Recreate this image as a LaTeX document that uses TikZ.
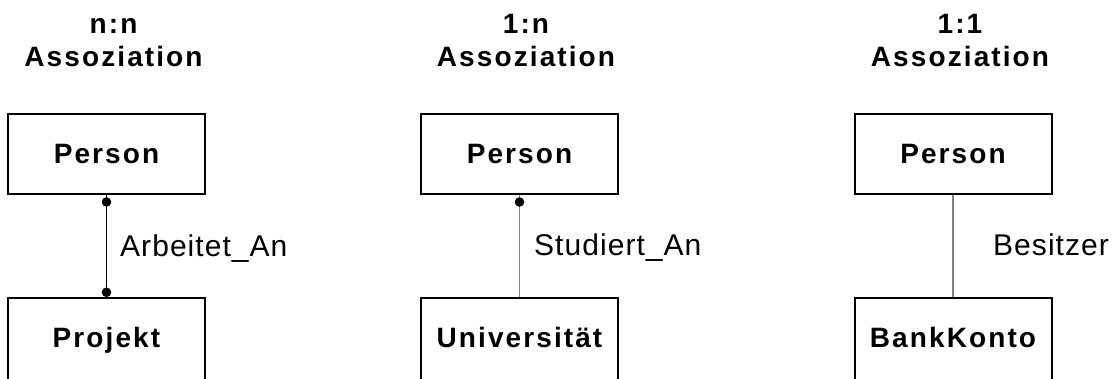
\documentclass[tikz,border=0pt]{standalone}
\usepackage{fontspec}
\setmainfont{Liberation Sans}
\newfontfamily\boxfont[LetterSpace=7.5]{Liberation Sans}
\newfontfamily\labfont[LetterSpace=3.5]{Liberation Sans}
\definecolor{linegray}{RGB}{128,128,128}
\begin{document}
\begin{tikzpicture}[x=1pt,y=-1pt,
  entity/.style={draw=black, line width=2pt, minimum width=197pt, minimum height=80pt, inner sep=0pt,
    text height=20pt, text depth=0pt,
    font=\boxfont\bfseries\fontsize{28}{32}\selectfont},
  lowentity/.style={entity, minimum height=84pt, text depth=4pt},
  title/.style={align=center, anchor=base, inner sep=0pt, font=\boxfont\bfseries\fontsize{28}{33.4}\selectfont},
  rellabel/.style={anchor=base west, inner sep=0pt, font=\labfont\fontsize{30}{32}\selectfont},
  assocblack/.style={draw=black, line width=1.3pt},
  assocgray/.style={draw=linegray, line width=1.7pt},
  dotr/.style={fill=black}
]
\useasboundingbox (0,0) rectangle (1120,379);

% titles
\node[title] (t1) at (113.5,66.7) {n:n\\Assoziation};
\node[title] (t2) at (526,66.7) {1:n\\Assoziation};
\node[title] (t3) at (960,66.7) {1:1\\Assoziation};

% top entities
\node[entity] (p1) at (106.5,154) {Person};
\node[entity] (p2) at (519.5,154) {Person};
\node[entity] (p3) at (953,154) {Person};

% bottom entities
\node[lowentity] (b1) at (106.5,339.7) {Projekt};
\node[lowentity] (b2) at (519.5,339.7) {Universität};
\node[lowentity] (b3) at (953,339.7) {BankKonto};

% connectors
\draw[assocblack] (p1.south) -- (b1.north);
\fill[dotr] ([yshift=-7pt]p1.south) circle (4.8);
\fill[dotr] ([yshift=4.4pt]b1.north) circle (4.8);

\draw[assocgray] (p2.south) -- (b2.north);
\fill[dotr] ([yshift=-7pt]p2.south) circle (4.8);

\draw[assocgray] (p3.south) -- (b3.north);

% labels
\node[rellabel] (l1) at (120,256.7) {Arbeitet\_An};
\node[rellabel] (l2) at (534,256) {Studiert\_An};
\node[rellabel] (l3) at (993,255.5) {Besitzer};
\end{tikzpicture}
\end{document}
